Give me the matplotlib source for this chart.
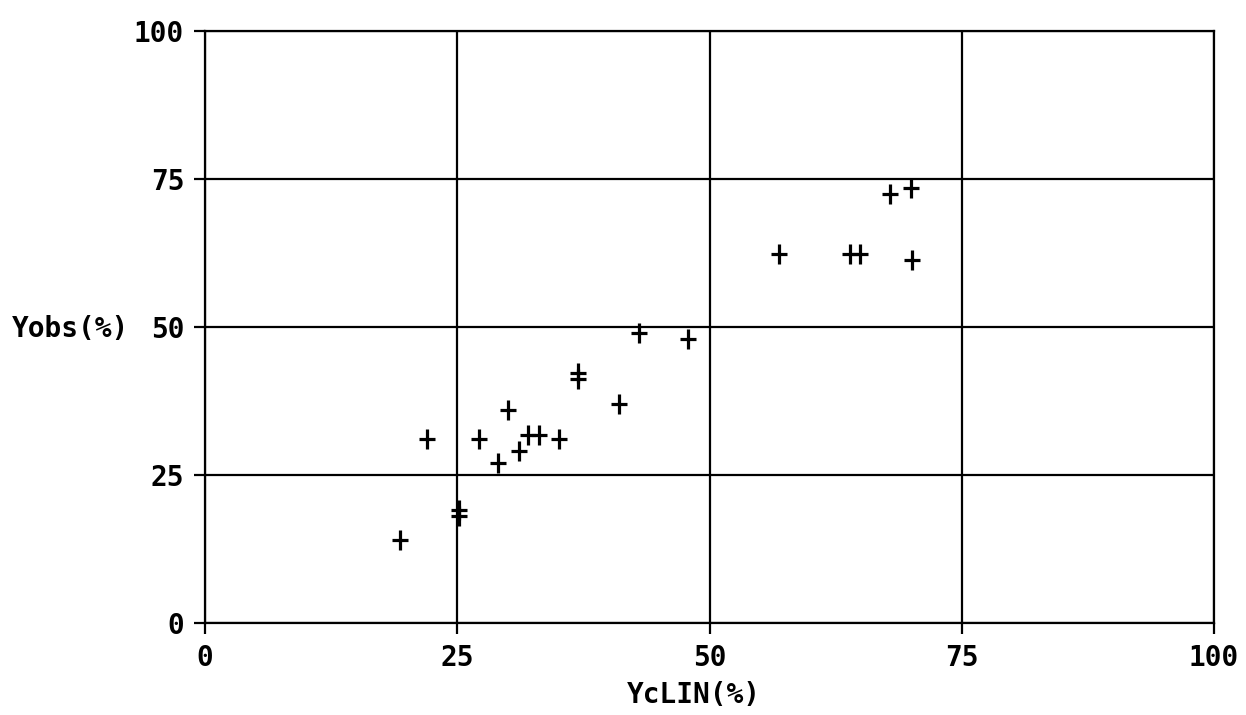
import matplotlib
matplotlib.use("Agg")
import matplotlib.pyplot as plt
from matplotlib.path import Path

# Predicted (linear model) vs observed yield, in percent
yc_lin = [19.3, 22.0, 25.2, 25.2, 27.2, 29.0, 30.0, 31.1, 32.0, 33.1, 35.1,
          37.0, 37.0, 41.0, 43.0, 47.9, 56.9, 63.9, 64.9, 67.9, 70.0, 70.1]
y_obs = [14.0, 31.1, 19.1, 18.0, 31.0, 27.0, 35.9, 29.1, 31.8, 31.8, 31.0,
         41.3, 42.3, 37.0, 49.0, 48.0, 62.3, 62.3, 62.3, 72.4, 73.4, 61.3]

ticks = [0, 25, 50, 75, 100]
tick_labels = ["0", "25", "50", "75", "100"]
x_label = "YcLIN(%)"
y_label = "Yobs(%)"

W, H = 1246, 715
fig = plt.figure(figsize=(W / 100, H / 100), dpi=100)
ax = fig.add_axes([205 / W, 1 - 623 / H, (1214 - 205) / W, (623 - 31) / H])

font = dict(family="DejaVu Sans Mono", fontweight="bold", fontsize=20)

# a plus sign slightly taller than wide
plus = Path([(-0.75, 0), (0.75, 0), (0, -1), (0, 1)],
            [Path.MOVETO, Path.LINETO, Path.MOVETO, Path.LINETO])

ax.plot(yc_lin, y_obs, linestyle="none", marker=plus, markersize=15,
        markeredgewidth=2.3, color="black", zorder=3)

ax.set_xlim(0, 100)
ax.set_ylim(0, 100)
ax.set_xticks(ticks)
ax.set_yticks(ticks)
ax.set_xticklabels(tick_labels, **font)
ax.set_yticklabels(tick_labels, **font)
ax.tick_params(axis="y", direction="out", length=8, width=1.6,
               color="black", pad=7)
ax.tick_params(axis="x", direction="out", length=8, width=1.6,
               color="black", pad=7)
ax.grid(True, color="black", linewidth=1.6)
for s in ax.spines.values():
    s.set_linewidth(1.6)
    s.set_color("black")

fig.text(12 / W, 1 - 329 / H, y_label, ha="left", va="center", **font)
fig.text(694 / W, 1 - 695 / H, x_label, ha="center", va="center", **font)

fig.savefig("out.png", dpi=100)
